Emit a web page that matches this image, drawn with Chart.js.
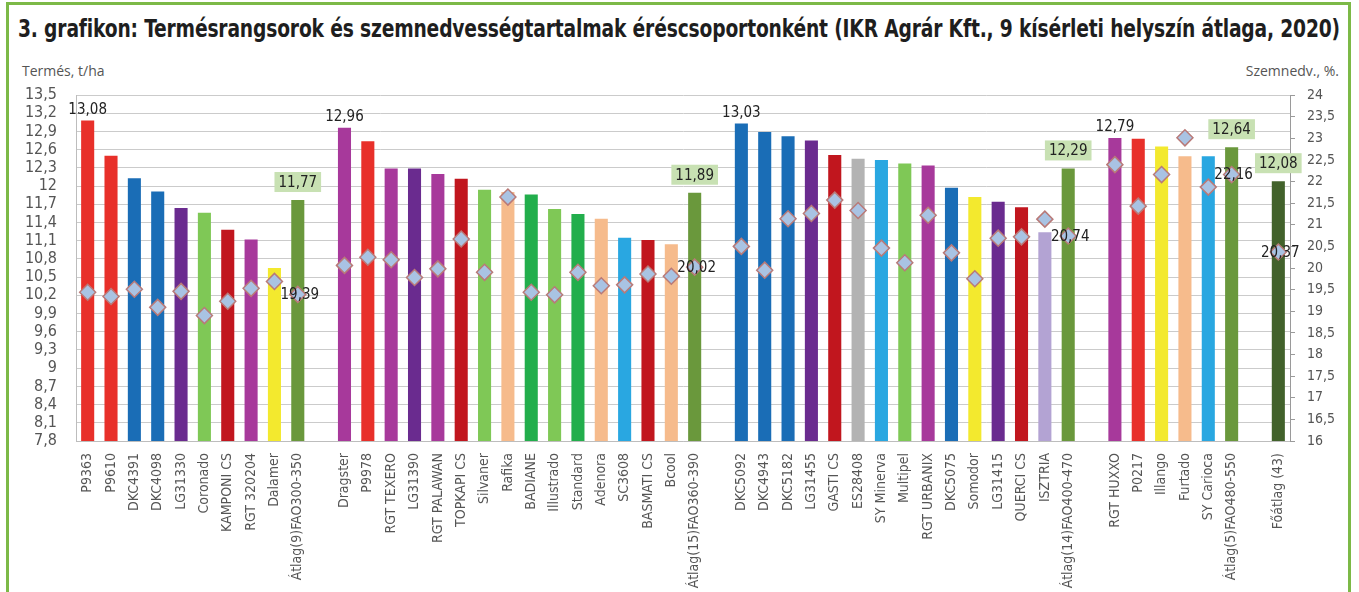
<!DOCTYPE html>
<html>
<head>
<meta charset="utf-8">
<script src="https://cdn.jsdelivr.net/npm/chart.js@4.4.1/dist/chart.umd.min.js"></script>
<style>
  html, body { margin: 0; padding: 0; background: #ffffff; }
  body { width: 1359px; height: 592px; position: relative; overflow: hidden; }
  #frame { position: absolute; left: 6px; top: 2px; width: 1345px; height: 620px; box-sizing: border-box;
           border: 3px solid #7cb947; border-bottom: none; }
  #title { position: absolute; left: 18px; top: 14px; white-space: nowrap; transform-origin: 0 0;
           font-family: "DejaVu Sans Condensed", "Liberation Sans Narrow", "Roboto", sans-serif;
           font-weight: bold; font-size: 25px; color: #1e1e1e; letter-spacing: -0.2px; }
  .axt { position: absolute; top: 61px; white-space: nowrap;
         font-family: "Open Sans", "Noto Sans", sans-serif; font-size: 14px; color: #555; }
  #ytl { left: 22px; }
  #ytr { right: 20px; }
  #wrap { position: absolute; left: 0; top: 0; width: 1359px; height: 592px; }
</style>
</head>
<body>
<div id="frame"></div>
<div id="title">3. grafikon: Termésrangsorok és szemnedvességtartalmak éréscsoportonként (IKR Agrár Kft., 9 kísérleti helyszín átlaga, 2020)</div>
<div class="axt" id="ytl">Termés, t/ha</div>
<div class="axt" id="ytr">Szemnedv., %.</div>
<div id="wrap"><canvas id="c" width="1359" height="592"></canvas></div>
<script>
// ---------------- DATA ----------------
const categories = [
  'P9363','P9610','DKC4391','DKC4098','LG31330','Coronado','KAMPONI CS','RGT 320204','Dalamer','Átlag(9)FAO300-350',
  '',
  'Dragster','P9978','RGT TEXERO','LG31390','RGT PALAWAN','TOPKAPI CS','Silvaner','Rafika','BADIANE','Illustrado','Standard','Adenora','SC3608','BASMATI CS','Bcool','Átlag(15)FAO360-390',
  '',
  'DKC5092','DKC4943','DKC5182','LG31455','GASTI CS','ES28408','SY Minerva','Multipel','RGT URBANIX','DKC5075','Somodor','LG31415','QUERCI CS','ISZTRIA','Átlag(14)FAO400-470',
  '',
  'RGT HUXXO','P0217','Illango','Furtado','SY Carioca','Átlag(5)FAO480-550',
  '',
  'Főátlag (43)'
];

const yieldTha = [
  13.08,12.50,12.13,11.91,11.64,11.56,11.28,11.12,10.65,11.77,
  null,
  12.96,12.74,12.29,12.29,12.20,12.12,11.94,11.90,11.86,11.62,11.54,11.46,11.15,11.11,11.04,11.89,
  null,
  13.03,12.89,12.82,12.75,12.51,12.45,12.43,12.37,12.34,11.97,11.82,11.74,11.65,11.24,12.29,
  null,
  12.79,12.78,12.65,12.49,12.49,12.64,
  null,
  12.08
];

const moisturePct = [
  19.44,19.34,19.51,19.09,19.46,18.90,19.23,19.53,19.69,19.39,
  null,
  20.06,20.25,20.19,19.78,19.98,20.67,19.90,21.64,19.44,19.38,19.90,19.59,19.61,19.86,19.81,20.02,
  null,
  20.50,19.95,21.14,21.26,21.57,21.33,20.46,20.12,21.22,20.35,19.75,20.69,20.72,21.13,20.74,
  null,
  22.39,21.43,22.16,23.01,21.87,22.16,
  null,
  20.37
];

const leftTicks = [7.8,8.1,8.4,8.7,9,9.3,9.6,9.9,10.2,10.5,10.8,11.1,11.4,11.7,12,12.3,12.6,12.9,13.2,13.5];
const rightTicks = [16,16.5,17,17.5,18,18.5,19,19.5,20,20.5,21,21.5,22,22.5,23,23.5,24];

// indices of labelled bars
const groupLeaderIdx = [0, 11, 28, 44];
const averageIdx = [9, 26, 42, 49, 51];

// ---------------- STYLE ----------------
const C = {
  red: '#e8302a', blue: '#1a6db6', purple: '#6a2b8f', lgreen: '#7fc856', dred: '#c1161e',
  mag: '#a7399b', yellow: '#f3e92e', avg: '#6a983c', peach: '#f6bb8c', green: '#22ae4c',
  sky: '#29a7e1', gray: '#b3b3b3', lav: '#b3a3d3', main: '#42622b'
};
const barColors = [
  C.red, C.red, C.blue, C.blue, C.purple, C.lgreen, C.dred, C.mag, C.yellow, C.avg,
  null,
  C.mag, C.red, C.mag, C.purple, C.mag, C.dred, C.lgreen, C.peach, C.green, C.lgreen, C.green, C.peach, C.sky, C.dred, C.peach, C.avg,
  null,
  C.blue, C.blue, C.blue, C.purple, C.dred, C.gray, C.sky, C.lgreen, C.mag, C.blue, C.yellow, C.purple, C.dred, C.lav, C.avg,
  null,
  C.mag, C.red, C.yellow, C.peach, C.sky, C.avg,
  null,
  C.main
];

// fit the title to the width it takes in the original
(function () {
  const t = document.getElementById('title');
  const w = t.getBoundingClientRect().width;
  t.style.transform = 'scaleX(' + (1322 / w) + ')';
})();

const NARROW = '"DejaVu Sans Condensed", "Liberation Sans Narrow", sans-serif';
const fmt = v => String(Number(v.toFixed(2))).replace('.', ',');

const labelPlugin = {
  id: 'valueLabels',
  afterDatasetsDraw(chart) {
    const ctx = chart.ctx;
    const bars = chart.getDatasetMeta(1).data;
    const pts = chart.getDatasetMeta(0).data;
    ctx.save();
    ctx.textAlign = 'center';
    ctx.fillStyle = '#222';
    ctx.font = '15px ' + NARROW;
    ctx.textBaseline = 'bottom';
    groupLeaderIdx.forEach(i => {
      const el = bars[i];
      ctx.fillText(fmt(yieldTha[i]), el.x, el.y - 3);
    });
    averageIdx.forEach(i => {
      const el = bars[i];
      const t = fmt(yieldTha[i]);
      const w = ctx.measureText(t).width + 8;
      const h = 20;
      const bx = el.x - w / 2, by = el.y - 8 - h;
      ctx.fillStyle = '#c8e1b3';
      ctx.fillRect(bx, by, w, h);
      ctx.fillStyle = '#222';
      ctx.textBaseline = 'middle';
      ctx.fillText(t, el.x, by + h / 2 + 1);
    });
    ctx.textBaseline = 'middle';
    averageIdx.forEach(i => {
      const p = pts[i];
      ctx.fillStyle = '#222';
      ctx.fillText(fmt(moisturePct[i]), p.x + 2, p.y + 1);
    });
    ctx.restore();
  }
};

new Chart(document.getElementById('c'), {
  data: {
    labels: categories,
    datasets: [
      {
        type: 'line',
        label: 'Szemnedvesség',
        data: moisturePct,
        yAxisID: 'yR',
        showLine: false,
        pointStyle: 'rectRot',
        pointRadius: 8,
        pointHoverRadius: 8,
        pointBackgroundColor: '#a9c3e3',
        pointBorderColor: '#b97a78',
        pointBorderWidth: 1.5,
        order: 0
      },
      {
        type: 'bar',
        label: 'Termés',
        data: yieldTha,
        yAxisID: 'yL',
        backgroundColor: barColors,
        barPercentage: 0.56,
        categoryPercentage: 1,
        order: 1
      }
    ]
  },
  options: {
    responsive: false,
    animation: false,
    events: [],
    layout: { padding: { top: 95, left: 0, right: 0, bottom: 0 } },
    plugins: { legend: { display: false }, tooltip: { enabled: false }, title: { display: false } },
    scales: {
      x: {
        offset: true,
        grid: { display: false, drawTicks: false },
        border: { display: true, color: '#bdbdbd', width: 1 },
        ticks: {
          autoSkip: false, maxRotation: 90, minRotation: 90, padding: 12,
          color: '#555', font: { family: NARROW, size: 14 }
        },
        afterFit(s) { s.height = 151; }
      },
      yL: {
        position: 'left',
        min: 7.8, max: 13.5,
        afterBuildTicks(s) { s.ticks = leftTicks.map(v => ({ value: v })); },
        grid: { color: '#cbcbcb', lineWidth: 1, drawTicks: false },
        border: { display: true, color: '#bdbdbd' },
        ticks: {
          autoSkip: false, padding: 19, color: '#555', font: { family: NARROW, size: 16 },
          callback: v => fmt(v)
        },
        afterFit(s) { s.width = 76; }
      },
      yR: {
        position: 'right',
        min: 16, max: 24,
        afterBuildTicks(s) { s.ticks = rightTicks.map(v => ({ value: v })); },
        grid: { drawOnChartArea: false, drawTicks: true, tickLength: 5, color: '#9a9a9a' },
        border: { display: true, color: '#9a9a9a' },
        ticks: {
          autoSkip: false, padding: 12, color: '#555', font: { family: NARROW, size: 14 },
          callback: v => fmt(v)
        },
        afterFit(s) { s.width = 69; }
      }
    }
  },
  plugins: [labelPlugin]
});
</script>
</body>
</html>
